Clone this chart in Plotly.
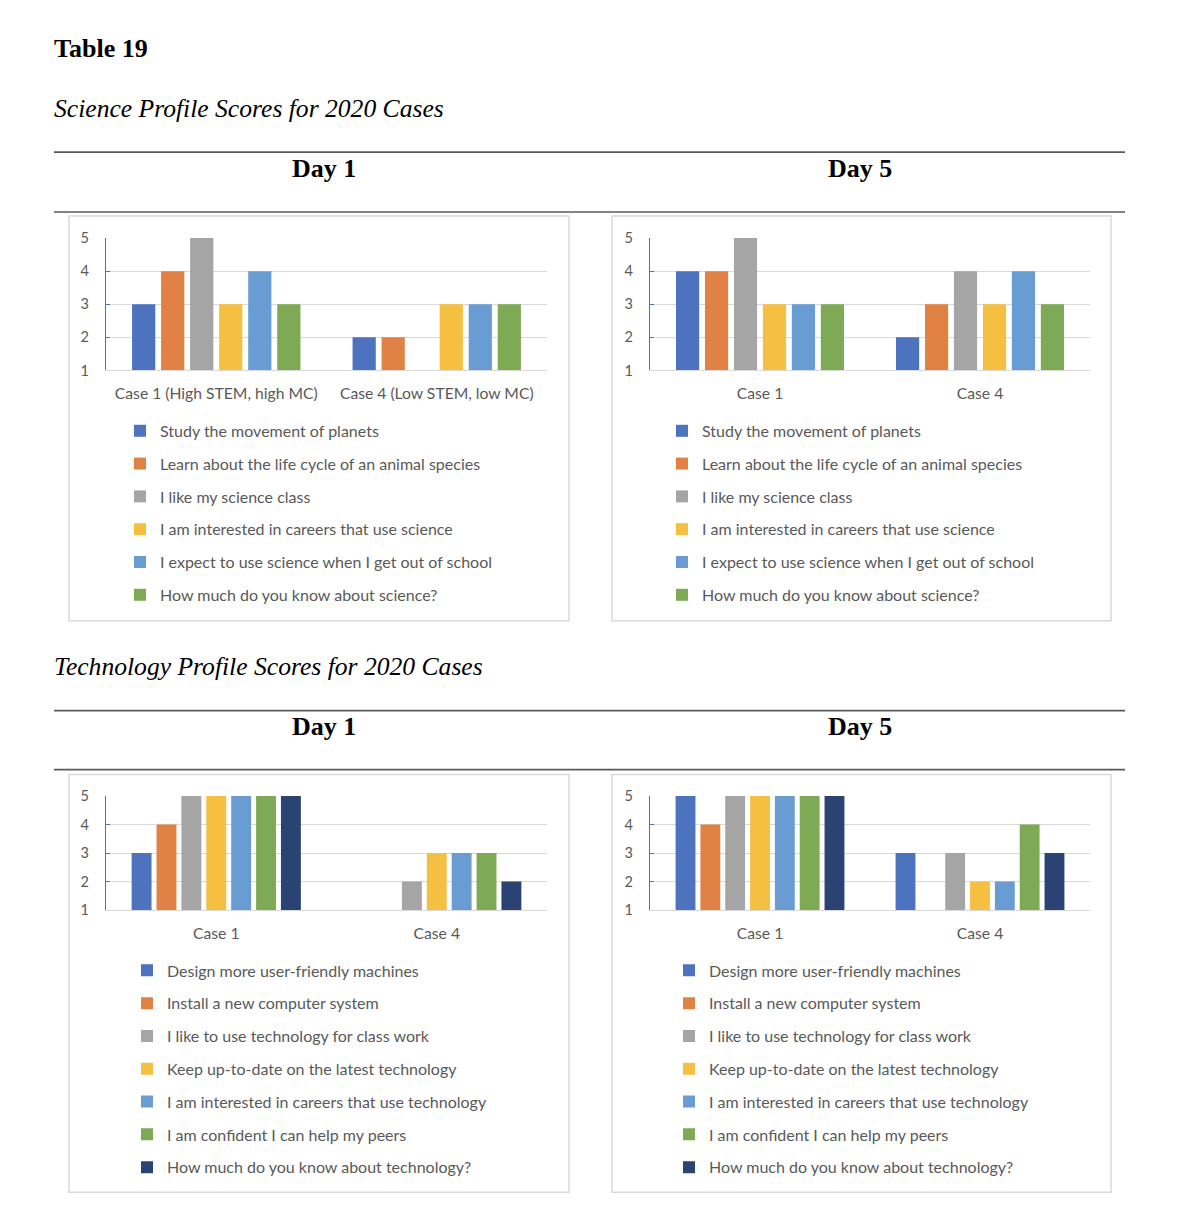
import plotly.graph_objects as go

# page size and default body margin of the browser page
PAGE_W, PAGE_H = 1188, 1224
M = 8
W, H = PAGE_W - 2 * M, PAGE_H - 2 * M
# measured vertical mapping of the capture (image_y = A * page_y + B)
A, B = 0.9867, 8.9

# ---------------- data ----------------
cases_sci_d1 = ["Case 1 (High STEM, high MC)", "Case 4 (Low STEM, low MC)"]
cases_sci_d5 = ["Case 1", "Case 4"]
cases_tech = ["Case 1", "Case 4"]

sci_items = [
    "Study the movement of planets",
    "Learn about the life cycle of an animal species",
    "I like my science class",
    "I am interested in careers that use science",
    "I expect to use science when I get out of school",
    "How much do you know about science?",
]
sci_day1 = [[3, 2], [4, 2], [5, None], [3, 3], [4, 3], [3, 3]]
sci_day5 = [[4, 2], [4, 3], [5, 4], [3, 3], [3, 4], [3, 3]]

tech_items = [
    "Design more user-friendly machines",
    "Install a new computer system",
    "I like to use technology for class work",
    "Keep up-to-date on the latest technology",
    "I am interested in careers that use technology",
    "I am confident I can help my peers",
    "How much do you know about technology?",
]
tech_day1 = [[3, None], [4, None], [5, 2], [5, 3], [5, 3], [5, 3], [5, 2]]
tech_day5 = [[5, 3], [4, None], [5, 3], [5, 2], [5, 2], [5, 4], [5, 3]]

y_ticks = [1, 2, 3, 4, 5]

colors = ["#4E73BE", "#E08244", "#A5A5A5", "#F5BF41", "#699CD2", "#7FAA55", "#2B4373"]

# ---------------- helpers (target pixels -> paper) ----------------
def px(x):
    return (x - M) / W

def py(y):
    page_y = (y - B) / A
    return 1 - (page_y - M) / H

CHART_FONT = "Lato"
TXT = "#595959"

fig = go.Figure()

panels = [
    (sci_items, sci_day1, cases_sci_d1, "", (106, 547), (238, 370.5), "legend", 120, 414),
    (sci_items, sci_day5, cases_sci_d5, "2", (650, 1090), (238, 370.5), "legend2", 662, 414),
    (tech_items, tech_day1, cases_tech, "3", (106, 547), (796.5, 910.5), "legend3", 127, 954),
    (tech_items, tech_day5, cases_tech, "4", (650, 1090), (796.5, 910.5), "legend4", 669, 954),
]

layout_extra = {}
for pi, (items, vals, cases, ax, xr, yr, leg, lx, ly) in enumerate(panels):
    for i, (name, v) in enumerate(zip(items, vals)):
        fig.add_trace(go.Bar(
            x=cases, y=v, name=name,
            marker=dict(color=colors[i], line=dict(width=0)),
            xaxis="x" + ax, yaxis="y" + ax,
            legend=leg, legendgroup=f"{leg}_{i}",
            hoverinfo="name+y",
        ))
    xa = "xaxis" + ax
    ya = "yaxis" + ax
    layout_extra[xa] = dict(
        domain=[px(xr[0]), px(xr[1])],
        anchor="y" + ax,
        showline=True, linecolor="#D9D9D9", linewidth=1.3,
        ticks="", showgrid=False,
        tickfont=dict(family=CHART_FONT, size=15.7, color=TXT),
        ticklabelstandoff=9,
        fixedrange=True,
    )
    layout_extra[ya] = dict(
        domain=[py(yr[1]), py(yr[0])],
        anchor="x" + ax,
        range=[1, 5],
        tickvals=y_ticks,
        showgrid=True, gridcolor="#D9D9D9", gridwidth=1.3,
        showline=True, linecolor="#4472C4", linewidth=1.4,
        ticks="inside", ticklen=4, tickcolor="#4472C4", tickwidth=1.3,
        tickfont=dict(family=CHART_FONT, size=14.5, color=TXT),
        ticklabelstandoff=13,
        zeroline=False,
        fixedrange=True,
    )
    layout_extra[leg] = dict(
        x=px(lx), y=py(ly), xanchor="left", yanchor="top",
        font=dict(family=CHART_FONT, size=16, color=TXT),
        bgcolor="rgba(0,0,0,0)", borderwidth=0,
        tracegroupgap=9, traceorder="grouped",
        itemclick=False, itemdoubleclick=False,
    )

shapes = []
for yy in (152, 212, 711, 770):
    shapes.append(dict(type="line", xref="paper", yref="paper",
                       x0=px(54), x1=px(1125), y0=py(yy), y1=py(yy),
                       line=dict(color="#5A5A5A", width=1.6)))
for (x0, y0, x1, y1) in [(69, 216, 569, 621), (612, 216, 1111, 621),
                         (69, 775, 569, 1193), (612, 775, 1111, 1193)]:
    shapes.append(dict(type="rect", xref="paper", yref="paper",
                       x0=px(x0), x1=px(x1), y0=py(y0), y1=py(y1),
                       line=dict(color="#D9D9D9", width=1.5), layer="below"))

SERIF = "Liberation Serif"
HFS = 26
annotations = [
    dict(text="<b>Table 19</b>", x=px(54), y=py(48), xanchor="left", yanchor="middle",
         font=dict(family=SERIF, size=HFS, color="#000000"), xshift=-2),
    dict(text="<i>Science Profile Scores for 2020 Cases</i>", x=px(54), y=py(108),
         xanchor="left", yanchor="middle", font=dict(family=SERIF, size=25.6, color="#000000"), xshift=-2),
    dict(text="<i>Technology Profile Scores for 2020 Cases</i>", x=px(54), y=py(667),
         xanchor="left", yanchor="middle", font=dict(family=SERIF, size=25.6, color="#000000"), xshift=-2),
]
for (cx, cy, t) in [(324, 168, "Day 1"), (860, 168, "Day 5"), (324, 727, "Day 1"), (860, 727, "Day 5")]:
    annotations.append(dict(text=f"<b>{t}</b>", x=px(cx), y=py(cy), xanchor="center", yanchor="middle",
                            font=dict(family=SERIF, size=HFS, color="#000000")))
for a in annotations:
    a.update(xref="paper", yref="paper", showarrow=False)

fig.update_layout(
    width=W, height=H,
    margin=dict(l=0, r=0, t=0, b=0),
    paper_bgcolor="white", plot_bgcolor="white",
    barmode="group", bargap=0.21, bargroupgap=0.2,
    shapes=shapes, annotations=annotations,
    showlegend=True,
    **layout_extra,
)

fig.write_html("out.html", config={"displayModeBar": False})
